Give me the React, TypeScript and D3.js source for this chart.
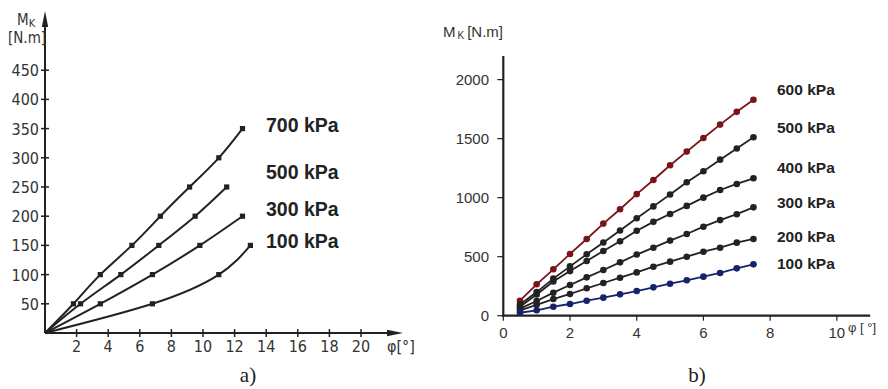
import React from 'react';
import * as d3 from 'd3';

// ---- chart a) : torque vs angle, square markers ----
const aSeries = ['700 kPa', '500 kPa', '300 kPa', '100 kPa'];
const aPhi = [
  [0, 1.8, 3.5, 5.5, 7.3, 9.15, 11, 12.5],
  [0, 2.25, 4.8, 7.2, 9.5, 11.5],
  [0, 3.5, 6.8, 9.8, 12.5],
  [0, 6.8, 11, 13],
];
const aM = [
  [0, 50, 100, 150, 200, 250, 300, 350],
  [0, 50, 100, 150, 200, 250],
  [0, 50, 100, 150, 200],
  [0, 50, 100, 150],
];
const aLabelBase = [132, 179, 216, 248];
const aXTicks = [2, 4, 6, 8, 10, 12, 14, 16, 18, 20];
const aYTicks = [50, 100, 150, 200, 250, 300, 350, 400, 450];

// ---- chart b) ----
const bPhi = [0.5, 1, 1.5, 2, 2.5, 3, 3.5, 4, 4.5, 5, 5.5, 6, 6.5, 7, 7.5];
const bSeries = ['600 kPa', '500 kPa', '400 kPa', '300 kPa', '200 kPa', '100 kPa'];
const b600 = [127, 266, 393, 523, 650, 780, 902, 1030, 1150, 1274, 1390, 1505, 1619, 1727, 1830];
const b500 = [95, 200, 314, 418, 520, 620, 722, 825, 926, 1027, 1130, 1224, 1322, 1417, 1512];
const b400 = [75, 180, 290, 378, 464, 548, 630, 720, 795, 862, 930, 1000, 1065, 1116, 1164];
const b300 = [60, 125, 195, 260, 325, 387, 452, 518, 576, 636, 692, 754, 810, 860, 918];
const b200 = [45, 92, 141, 184, 232, 277, 322, 367, 415, 458, 500, 542, 576, 619, 650];
const b100 = [25, 46, 76, 99, 127, 153, 181, 209, 240, 271, 300, 331, 362, 401, 435];
const bValues = [b600, b500, b400, b300, b200, b100];
const bColors = ['#7a1418', '#222', '#222', '#222', '#222', '#13246b'];
const bLabelBase = [95, 133, 173, 208, 242, 269];
const bXTicks = [0, 2, 4, 6, 8, 10];
const bYTicks = [0, 500, 1000, 1500, 2000];

const isoFont = "'DejaVu Sans Condensed', 'DejaVu Sans', sans-serif";
const helv = "'Liberation Sans', Arial, sans-serif";

export default function App() {
  // a) scales
  const ax = d3.scaleLinear().domain([0, 20]).range([45, 361]);
  const ay = d3.scaleLinear().domain([0, 450]).range([333, 70.2]);
  const aLine = d3.line<[number, number]>()
    .x(d => ax(d[0]))
    .y(d => ay(d[1]))
    .curve(d3.curveNatural);

  // b) scales
  const bx = d3.scaleLinear().domain([0, 11]).range([503.3, 870.2]);
  const by = d3.scaleLinear().domain([0, 2200]).range([315.7, 56]);
  const bLine = d3.line<number>()
    .x((d, i) => bx(bPhi[i]))
    .y(d => by(d));

  return (
    <svg width={888} height={389} style={{ position: 'absolute', left: 0, top: 0, background: '#fff' }}>
      {/* ===== chart a ===== */}
      <g>
        <line x1={ax(0)} x2={ax(0)} y1={333} y2={22} stroke="#222" strokeWidth={2} />
        <path d="M45,11 L41.8,27 L48.2,27 Z" fill="#222" />
        <line x1={ax(0)} x2={392} y1={333} y2={333} stroke="#222" strokeWidth={2} />
        <path d="M403,333 L387,329.8 L387,336.2 Z" fill="#222" />
        {aYTicks.map(t => (
          <g key={t}>
            <line x1={41} x2={49} y1={ay(t)} y2={ay(t)} stroke="#222" strokeWidth={1.5} />
            <text x={39} y={ay(t) + 6} textAnchor="end" fontFamily={isoFont} fontSize={16} fill="#333"
              style={{ fontStretch: 'condensed' }}>{t}</text>
          </g>
        ))}
        {aXTicks.map(t => (
          <g key={t}>
            <line x1={ax(t)} x2={ax(t)} y1={329} y2={337} stroke="#222" strokeWidth={1.5} />
            <text x={ax(t)} y={352} textAnchor="middle" fontFamily={isoFont} fontSize={16} fill="#333"
              style={{ fontStretch: 'condensed' }}>{t}</text>
          </g>
        ))}
        <text x={387} y={352} fontFamily={isoFont} fontSize={16} fill="#333" style={{ fontStretch: 'condensed' }}>φ[°]</text>
        <text x={17} y={25} fontFamily={isoFont} fontSize={15} fill="#333" style={{ fontStretch: 'condensed' }}>
          M<tspan fontSize={11} dy={2}>K</tspan>
        </text>
        <text x={8} y={43} fontFamily={isoFont} fontSize={15} fill="#333" style={{ fontStretch: 'condensed' }}>[N.m]</text>

        {aSeries.map((s, i) => {
          const pts = aPhi[i].map((p, j) => [p, aM[i][j]] as [number, number]);
          return (
            <g key={s}>
              <path d={aLine(pts) || ''} fill="none" stroke="#222" strokeWidth={2} />
              {pts.slice(1).map((p, j) => (
                <rect key={j} x={ax(p[0]) - 2.6} y={ay(p[1]) - 2.6} width={5.2} height={5.2} fill="#222" />
              ))}
              <text x={266} y={aLabelBase[i]} fontFamily={helv} fontWeight="bold" fontSize={19.5} fill="#222">{s}</text>
            </g>
          );
        })}
        <text x={248} y={382} textAnchor="middle" fontFamily="'Liberation Serif', 'Times New Roman', serif" fontSize={21} fill="#222">a)</text>
      </g>

      {/* ===== chart b ===== */}
      <g>
        <line x1={bx(0)} x2={bx(0)} y1={by(2200)} y2={by(0) + 1} stroke="#222" strokeWidth={2.2} />
        <line x1={bx(0) - 1} x2={bx(11)} y1={by(0)} y2={by(0)} stroke="#222" strokeWidth={2.2} />
        {bYTicks.map(t => (
          <g key={t}>
            <line x1={bx(0) - 6} x2={bx(0)} y1={by(t)} y2={by(t)} stroke="#222" strokeWidth={1.2} />
            <text x={489} y={by(t) + 5.5} textAnchor="end" fontFamily={helv} fontSize={15} fill="#333">{t}</text>
          </g>
        ))}
        {bXTicks.map(t => (
          <g key={t}>
            <line x1={bx(t)} x2={bx(t)} y1={by(0)} y2={by(0) + 5} stroke="#222" strokeWidth={1.2} />
            <text x={bx(t)} y={338} textAnchor="middle" fontFamily={helv} fontSize={15} fill="#333">{t}</text>
          </g>
        ))}
        <text x={848} y={332} fontFamily={helv} fontSize={13} fill="#333">φ [ °]</text>
        <text x={443} y={37} fontFamily={helv} fontSize={15} fill="#333">
          M<tspan fontSize={10} dx={2} dy={2}>K</tspan><tspan dy={-2} dx={3}>[N.m]</tspan>
        </text>

        {bSeries.map((s, i) => (
          <g key={s}>
            <path d={bLine(bValues[i]) || ''} fill="none" stroke={bColors[i]} strokeWidth={1.8} />
            {bValues[i].map((v, j) => (
              <circle key={j} cx={bx(bPhi[j])} cy={by(v)} r={3.3} fill={bColors[i]} />
            ))}
            <text x={777} y={bLabelBase[i]} fontFamily={helv} fontWeight="bold" fontSize={15.5} fill="#222">{s}</text>
          </g>
        ))}
        <text x={697} y={382} textAnchor="middle" fontFamily="'Liberation Serif', 'Times New Roman', serif" fontSize={21} fill="#222">b)</text>
      </g>
    </svg>
  );
}
